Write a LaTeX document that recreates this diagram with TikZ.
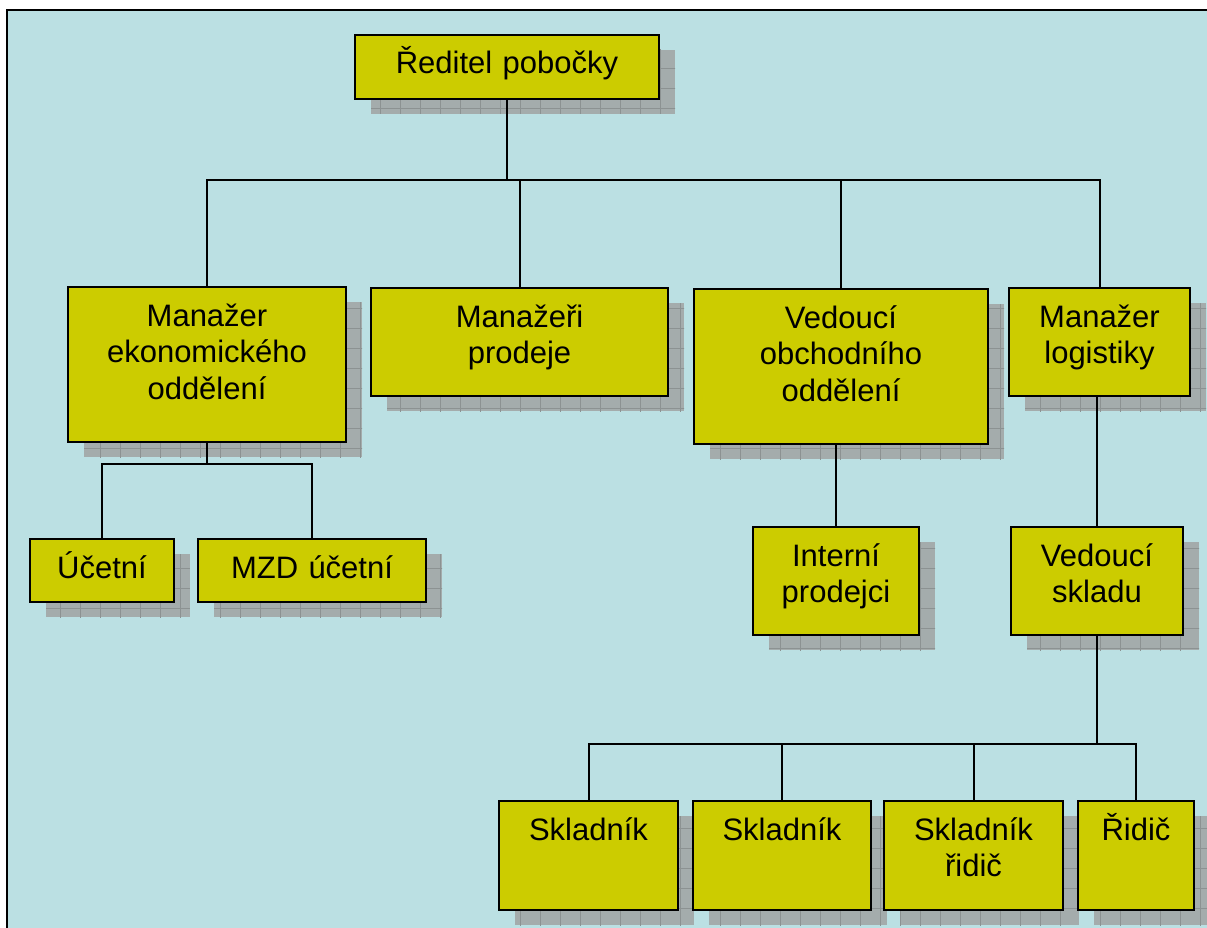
\documentclass[tikz,border=0pt]{standalone}
\usepackage{fontspec}
\setmainfont{Liberation Sans}
\usetikzlibrary{shadows,patterns.meta}
\definecolor{pozadi}{HTML}{BBE0E3}
\definecolor{zluta}{HTML}{CCCC00}
\definecolor{stin}{HTML}{A4ACAC}
\definecolor{mriz}{HTML}{8C9292}
\begin{document}
\begin{tikzpicture}[x=1pt, y=-1pt,
    box/.style 2 args={draw=black, line width=2pt, fill=zluta, anchor=north west,
      text width=#1pt, text height=35pt, text depth=#2pt, inner xsep=0pt, inner ysep=4pt,
      align=center, font=\fontsize{31}{36.5}\selectfont,
      drop shadow={shadow xshift=16pt, shadow yshift=-15pt, fill=stin, opacity=1,
        postaction={pattern={Hatch[distance=20pt, angle=0, line width=0.8pt]}, pattern color=mriz}}},
    spoj/.style={line width=2pt}]
  \useasboundingbox (0,0) rectangle (1207,928);
  \draw[line width=2pt, fill=pozadi] (7,10) rectangle (1230,950);
  \node[box={304}{21}]  (dir) at (354,34)  {Ředitel pobočky};
  \node[box={278}{112}] (mek) at (67,286)  {Manažer\\ ekonomického\\ oddělení};
  \node[box={297}{65}]  (mpr) at (370,287) {Manažeři\\ prodeje};
  \node[box={294}{112}] (vob) at (693,288) {Vedoucí\\ obchodního\\ oddělení};
  \node[box={181}{65}]  (mlo) at (1008,287) {Manažer\\ logistiky};
  \node[box={144}{20}]  (uce) at (29,538)  {Účetní};
  \node[box={228}{20}]  (mzd) at (197,538) {MZD účetní};
  \node[box={166}{65}]  (ipr) at (752,526) {Interní\\ prodejci};
  \node[box={172}{65}]  (vsk) at (1010,526) {Vedoucí\\ skladu};
  \node[box={179}{66}]  (sk1) at (498,800) {Skladník};
  \node[box={178}{66}]  (sk2) at (692,800) {Skladník};
  \node[box={179}{66}]  (skr) at (883,800) {Skladník\\ řidič};
  \node[box={116}{66}]  (rid) at (1077,800) {Řidič};
  \foreach \c in {mek,mpr,vob,mlo}
    \draw[spoj] (dir.south) -- ++(0,80) -| (\c.north);
  \foreach \c in {uce,mzd}
    \draw[spoj] (mek.south) -- ++(0,21) -| (\c.north);
  \draw[spoj] (ipr.north) -- (ipr.north |- vob.south);
  \draw[spoj] (vsk.north) -- (vsk.north |- mlo.south);
  \foreach \c in {sk1,sk2,skr,rid}
    \draw[spoj] (vsk.south) -- ++(0,108) -| (\c.north);
\end{tikzpicture}
\end{document}
